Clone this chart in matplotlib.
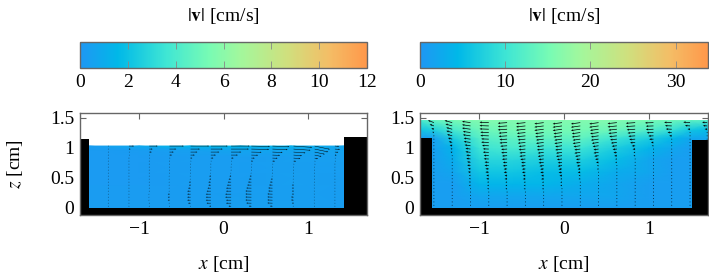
import matplotlib
matplotlib.use("Agg")
import matplotlib.pyplot as plt
import numpy as np
from matplotlib.colors import LinearSegmentedColormap, Normalize
from matplotlib.cm import ScalarMappable

plt.rcParams["font.family"] = ["Liberation Serif", "DejaVu Serif"]
plt.rcParams["mathtext.fontset"] = "stix"
plt.rcParams["font.size"] = 14

GRAY = "#666666"

cmap_stops = [(0.0, "#1f97f3"), (0.13, "#00b8e8"), (0.3, "#3fe6d4"), (0.45, "#78fbb4"),
              (0.56, "#a3f79c"), (0.72, "#cfe07e"), (0.87, "#f4bd66"), (1.0, "#ff984a")]
cmap = LinearSegmentedColormap.from_list("flow", cmap_stops)

# colorbars
cb_left_max = 12
cb_left_ticks = [0, 2, 4, 6, 8, 10, 12]
cb_right_max = 33.8
cb_right_ticks = [0, 10, 20, 30]

# left panel: walls and fluid
left_wall_x = [-1.7, -1.595, -1.595, 1.43, 1.43, 1.7]
left_wall_z = [1.145, 1.145, 0.0, 0.0, 1.18, 1.18]
left_grid_x = [-1.595, -1.0, -0.4, 0.2, 0.8, 1.43]
left_grid_z = [0.0, 0.5, 0.85, 0.97, 1.03]
left_speed = [[0.3, 0.3, 0.3, 0.4, 0.4, 0.3],
              [0.2, 0.2, 0.3, 0.3, 0.4, 0.3],
              [0.2, 0.2, 0.3, 0.3, 0.4, 0.4],
              [0.2, 0.3, 0.5, 0.7, 0.7, 0.6],
              [0.3, 0.9, 1.5, 1.5, 1.3, 0.7]]

# right panel: walls and fluid
right_wall_x = [-1.7, -1.563, -1.563, 1.508, 1.508, 1.7]
right_wall_z = [1.16, 1.16, 0.0, 0.0, 1.127, 1.127]
right_grid_x = [-1.7, -1.56, -1.3, -1.0, -0.6, -0.2, 0.2, 0.6, 1.0, 1.3, 1.5, 1.7]
right_grid_z = [0.0, 0.2, 0.4, 0.6, 0.8, 1.0, 1.16, 1.3, 1.455]
right_speed = [[1, 1, 1, 1, 1, 1, 1, 1, 1, 1, 1, 1],
               [1, 1, 1, 2, 2, 2, 2, 2, 1, 1, 1, 1],
               [1, 1, 1, 4, 4, 4, 3, 2, 1, 1, 1, 1],
               [1, 1, 2, 6, 6, 5, 5, 3, 2, 1, 1, 1],
               [1, 1, 3, 8, 8, 7, 7, 5, 2, 1, 1, 1],
               [1, 1, 4, 10, 11, 10, 10, 7, 4, 2, 1, 1],
               [1, 1, 7, 12, 13, 13, 13, 10, 7, 4, 2, 2],
               [6, 7, 11, 14, 15, 15, 15, 14, 12, 9, 6, 5],
               [11, 13, 15, 16, 16, 16, 16, 16, 15, 14, 13, 12]]

# left panel arrows, horizontal component in 0.01 cm
left_col_x = [-1.365, -1.12, -0.88, -0.64, -0.39, -0.15, 0.09, 0.33, 0.58, 0.83, 1.08, 1.32]
left_row_z = [1.03, 0.98, 0.93, 0.88, 0.83, 0.78, 0.73, 0.68, 0.63, 0.58, 0.53,
              0.48, 0.43, 0.38, 0.33, 0.28, 0.23, 0.18, 0.13, 0.08, 0.03]
left_u = [[0, 6, 10, 17, 22, 20, 22, 22, 20, 22, 18, 5],
          [0, 2, 4, 8, 11, 14, 21, 21, 18, 20, 16, 6],
          [0, 1, 3, 5, 8, 10, 12, 12, 12, 14, 12, 4],
          [0, 1, 1, 3, 5, 6, 8, 8, 9, 10, 8, 2],
          [0, 0, 1, 1, 2, 3, 3, 4, 6, 8, 4, 1],
          [0, 0, 0, 0, 1, 1, 1, 2, 3, 3, 1, 1],
          [0, 0, 0, 0, 0, 0, 1, 1, 1, 1, 1, 0],
          [0, 0, 0, 0, 0, 0, 0, 0, 0, 0, 0, 0],
          [0, 0, 0, 0, 0, 0, 0, 0, 0, 0, 0, 0],
          [0, 0, 0, 0, 0, -1, -1, -1, 0, 0, 0, 0],
          [0, 0, 0, -1, -1, -2, -2, -2, -1, 0, 0, 0],
          [0, 0, 0, -1, -1, -2, -3, -3, -2, -1, 0, 0],
          [0, 0, 0, -1, -2, -3, -4, -4, -3, -1, 0, 0],
          [0, 0, 0, -1, -2, -3, -5, -5, -4, -2, -1, 0],
          [0, 0, 0, -1, -3, -4, -6, -6, -5, -2, -1, 0],
          [0, 0, 0, -1, -4, -5, -6, -7, -5, -2, -1, 0],
          [0, 0, -1, -2, -4, -6, -7, -7, -6, -2, -1, 0],
          [0, 0, -1, -2, -4, -6, -7, -7, -6, -3, -1, 0],
          [0, 0, -1, -2, -4, -6, -6, -7, -6, -3, -1, 0],
          [0, 0, 0, -1, -3, -5, -6, -6, -6, -2, -1, 0],
          [0, 0, 0, 0, -1, -2, -3, -3, -3, -1, 0, 0]]
left_tilt = [0, 0, 0, 0, 0, 0, 0, -0.03, -0.05, -0.1, -0.3, -0.1]

# right panel arrows, leftward component in 0.01 cm
right_col_x = [-1.536, -1.32, -1.104, -0.888, -0.672, -0.456, -0.24, -0.024,
               0.192, 0.408, 0.624, 0.84, 1.056, 1.272, 1.488, 1.69]
right_row_z = [1.42, 1.365, 1.31, 1.255, 1.2, 1.145, 1.09, 1.035, 0.98, 0.925, 0.87, 0.815, 0.76,
               0.705, 0.65, 0.595, 0.54, 0.485, 0.43, 0.375, 0.32, 0.265, 0.21, 0.155, 0.1, 0.045]
right_u = [[7, 9, 10, 11, 11, 11, 11, 11, 11, 11, 11, 11, 10, 9, 8, 6],
           [5, 8, 10, 11, 11, 11, 11, 11, 11, 11, 11, 11, 9, 8, 6, 5],
           [3, 7, 10, 11, 11, 11, 11, 11, 11, 10, 10, 10, 9, 7, 3, 3],
           [2, 7, 9, 10, 10, 10, 10, 10, 10, 10, 10, 9, 8, 5, 1, 1],
           [1, 6, 9, 10, 10, 10, 10, 10, 10, 9, 9, 8, 6, 3, 0, 0],
           [1, 5, 8, 9, 9, 9, 9, 9, 9, 9, 8, 7, 5, 1, 0, 0],
           [1, 4, 8, 9, 9, 9, 9, 9, 9, 8, 7, 6, 3, 1, 0, 0],
           [1, 3, 7, 8, 8, 8, 8, 8, 8, 7, 6, 4, 2, 0, 0, 0],
           [0, 2, 6, 7, 7, 8, 8, 8, 7, 6, 5, 3, 1, 0, 0, 0],
           [0, 2, 6, 7, 7, 7, 7, 7, 7, 6, 4, 2, 1, 0, 0, 0],
           [0, 1, 5, 6, 6, 7, 7, 7, 6, 5, 3, 2, 0, 0, 0, 0],
           [0, 1, 5, 6, 6, 6, 6, 6, 5, 4, 2, 1, 0, 0, 0, 0],
           [0, 1, 4, 5, 5, 5, 6, 5, 5, 3, 2, 1, 0, 0, 0, 0],
           [0, 1, 4, 5, 5, 5, 5, 5, 4, 2, 1, 1, 0, 0, 0, 0],
           [0, 1, 3, 4, 4, 4, 4, 4, 3, 2, 1, 0, 0, 0, 0, 0],
           [0, 1, 3, 4, 4, 4, 4, 4, 3, 1, 1, 0, 0, 0, 0, 0],
           [0, 0, 2, 3, 3, 3, 3, 3, 2, 1, 0, 0, 0, 0, 0, 0],
           [0, 0, 2, 3, 3, 3, 3, 2, 2, 1, 0, 0, 0, 0, 0, 0],
           [0, 0, 2, 2, 2, 2, 2, 2, 1, 0, 0, 0, 0, 0, 0, 0],
           [0, 0, 2, 2, 2, 2, 2, 2, 1, 0, 0, 0, 0, 0, 0, 0],
           [0, 0, 1, 2, 2, 2, 2, 1, 1, 0, 0, 0, 0, 0, 0, 0],
           [0, 0, 1, 1, 1, 1, 1, 1, 0, 0, 0, 0, 0, 0, 0, 0],
           [0, 0, 1, 1, 1, 1, 1, 0, 0, 0, 0, 0, 0, 0, 0, 0],
           [0, 0, 0, 1, 0, 0, 0, 0, 0, 0, 0, 0, 0, 0, 0, 0],
           [0, 0, 0, 0, 0, 0, 0, 0, 0, 0, 0, 0, 0, 0, 0, 0],
           [0, 0, 0, 0, 0, 0, 0, 0, 0, 0, 0, 0, 0, 0, 0, 0]]
right_tilt = [-0.55, -0.4, -0.2, -0.05, 0.1, 0.15, 0.18, 0.2, 0.2, 0.2, 0.15, 0.1, 0.05, -0.05, -0.1, -0.1]


W, H = 709.0, 279.0

def px_axes(fig, x0, x1, y0, y1):
    return fig.add_axes([x0 / W, 1 - y1 / H, (x1 - x0) / W, (y1 - y0) / H])

def style_spines(ax):
    for s in ax.spines.values():
        s.set_color(GRAY)
        s.set_linewidth(1.0)
        s.set_zorder(10)

def colorbar(fig, x0, x1, vmax, ticks):
    cax = px_axes(fig, x0, x1, 42, 68)
    sm = ScalarMappable(Normalize(0, vmax), cmap)
    fig.colorbar(sm, cax=cax, orientation="horizontal", ticks=ticks)
    cax.tick_params(axis="x", direction="in", length=5, width=0.6, color="#888888", pad=4, top=True, labelsize=14)
    cax.set_title(r"$|\mathbf{v}|$ [cm/s]", fontsize=14, pad=15)
    style_spines(cax)

def panel(fig, x0, x1, grid_x, grid_z, speed, vmax, wall_x, wall_z, col_x, row_z, u, tilt, width, dot, ylabel):
    ax = px_axes(fig, x0, x1, 113, 215)
    ax.pcolormesh(grid_x, grid_z, np.array(speed), shading="gouraud", cmap=cmap,
                  norm=Normalize(0, vmax), zorder=1, rasterized=True)
    ax.fill_between(wall_x, -0.2, wall_z, color="black", lw=0, zorder=2)
    X, Z = np.meshgrid(col_x, row_z)
    U = np.array(u) * 0.01
    V = U * np.array(tilt)
    ax.quiver(X, Z, U, V, angles="xy", scale_units="xy", scale=1, color="black",
              units="dots", width=width, headwidth=3, headlength=3.5, headaxislength=3,
              minlength=dot, zorder=3)
    ax.set_xlim(-1.7, 1.7)
    ax.set_ylim(-0.117, 1.58)
    ax.set_xticks([-1, 0, 1])
    ax.set_yticks([0, 0.5, 1, 1.5])
    ax.set_yticklabels(["0", "0.5", "1", "1.5"])
    ax.tick_params(direction="in", length=4, width=0.8, color=GRAY, top=True, right=True, labelsize=14, pad=4)
    ax.set_xlabel(r"$x$ [cm]", fontsize=14, labelpad=12)
    if ylabel:
        ax.set_ylabel(r"$z$ [cm]", fontsize=14, labelpad=18)
    style_spines(ax)
    return ax


fig = plt.figure(figsize=(W / 100, H / 100), dpi=100)

colorbar(fig, 80, 367, cb_left_max, cb_left_ticks)
colorbar(fig, 420, 708, cb_right_max, cb_right_ticks)

panel(fig, 80, 367, left_grid_x, left_grid_z, left_speed, cb_left_max, left_wall_x, left_wall_z,
      left_col_x, left_row_z, left_u, left_tilt, 0.45, 1.6, True)
panel(fig, 420, 708, right_grid_x, right_grid_z, right_speed, cb_right_max, right_wall_x, right_wall_z,
      right_col_x, right_row_z, np.negative(right_u), right_tilt, 0.7, 1.4, False)

fig.savefig("out.png", dpi=100)
